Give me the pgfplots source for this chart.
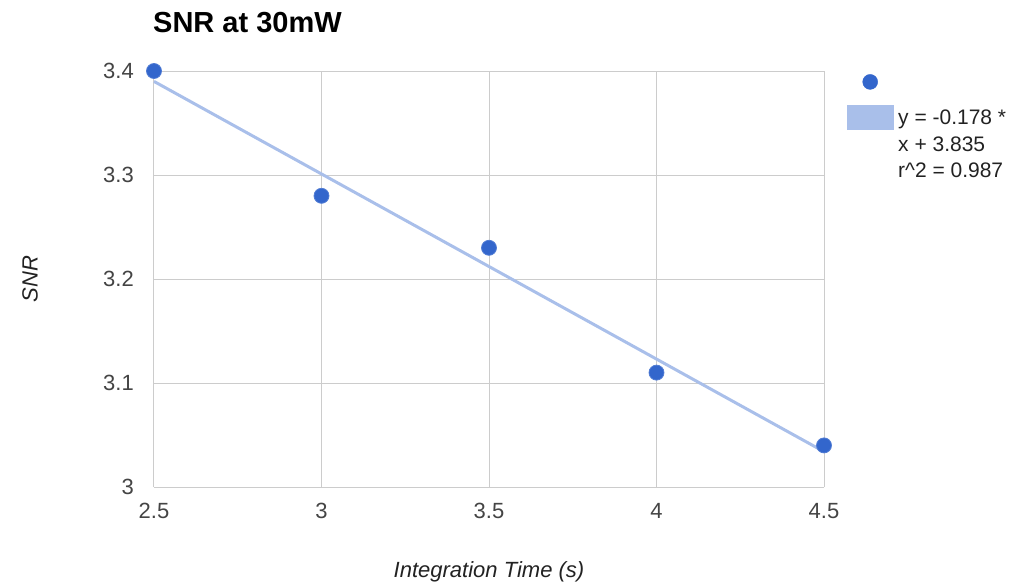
\documentclass[border=0pt]{standalone}
\usepackage{fontspec}
\setmainfont{Liberation Sans}
\usepackage{pgfplots}
\pgfplotsset{compat=1.18}
\definecolor{gblue}{HTML}{3366CC}
\definecolor{trend}{HTML}{A9BFEA}
\definecolor{gridc}{HTML}{CCCCCC}
\definecolor{tickc}{HTML}{444444}
\definecolor{labc}{HTML}{222222}
\begin{document}
\begin{tikzpicture}
\path[use as bounding box] (0,0) rectangle (1014pt,582pt);
\begin{axis}[
  at={(154pt,95pt)}, anchor=south west,
  scale only axis, width=670pt, height=416pt,
  xmin=2.5, xmax=4.5, ymin=3, ymax=3.4,
  xtick={2.5,3,3.5,4,4.5}, ytick={3,3.1,3.2,3.3,3.4},
  grid=major, major grid style={gridc, line width=1pt},
  axis line style={draw=none}, major tick length=0pt,
  clip=false,
  /pgf/number format/assume math mode=true,
  tick label style={font=\fontsize{22}{26}\selectfont, text=tickc},
  xticklabel style={inner sep=0pt, anchor=north, yshift=-16pt},
  yticklabel style={inner sep=0pt, anchor=east, xshift=-20pt},
  title={SNR at 30mW},
  title style={at={(axis description cs:0,1)}, anchor=base west, inner sep=0pt, xshift=-1pt, yshift=33pt, font=\fontsize{29}{34}\selectfont\bfseries},
  xlabel={Integration Time (s)},
  xlabel style={at={(axis description cs:0.5,-0.204)}, anchor=center, font=\fontsize{22}{26}\selectfont\itshape, text=labc},
  ylabel={SNR},
  ylabel style={at={(axis description cs:-0.185,0.5)}, anchor=center, rotate=0, font=\fontsize{22}{26}\selectfont\itshape, text=labc},
  reverse legend,
  legend cell align=left,
  legend style={at={(axis description cs:1.0358,0.9928)}, anchor=north west, draw=none, fill=none, inner sep=0pt,
    font=\fontsize{21}{26.5}\selectfont, text=labc, row sep=20.5pt, column sep=6pt,
    nodes={align=left, inner sep=0pt}},
]
\addplot[trend, line width=3pt,
  legend image code/.code={\path[draw=none,fill=none] (0pt,0pt) -- (44pt,0pt); \fill[trend,overlay] (0pt,16pt) rectangle (44pt,38pt);}]
  coordinates {(2.5,3.39) (4.5,3.034)};
\addlegendentry{y = -0.178 *\\x + 3.835\\r\textasciicircum 2 = 0.987}
\addplot[only marks, mark=*, mark size=7.5pt, gblue, mark options={fill=gblue, draw=gblue!85!white, line width=0.8pt},
  legend image code/.code={\fill[gblue] (22pt,0pt) circle (7.5pt);}]
  coordinates {(2.5,3.40) (3,3.28) (3.5,3.23) (4,3.11) (4.5,3.04)};
\addlegendentry{}
\end{axis}
\end{tikzpicture}
\end{document}
